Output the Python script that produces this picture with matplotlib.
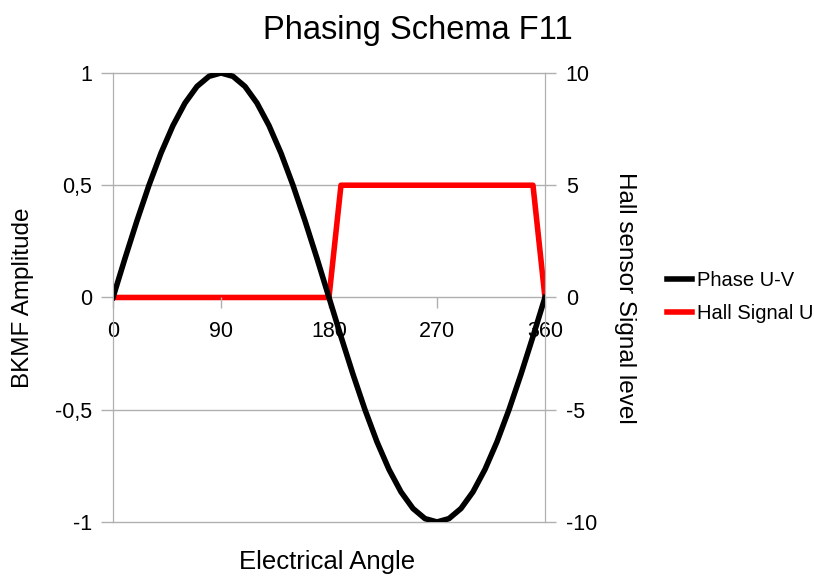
import numpy as np
import matplotlib
matplotlib.use("Agg")
from matplotlib import pyplot as plt

plt.rcParams['font.family'] = ['Liberation Sans', 'DejaVu Sans']
plt.rcParams['axes.unicode_minus'] = False

angle = list(range(0, 361, 10))  # electrical angle, degrees
phase_uv = [0, 0.174, 0.342, 0.5, 0.643, 0.766, 0.866, 0.940, 0.985, 1.0,
            0.985, 0.940, 0.866, 0.766, 0.643, 0.5, 0.342, 0.174, 0,
            -0.174, -0.342, -0.5, -0.643, -0.766, -0.866, -0.940, -0.985, -1.0,
            -0.985, -0.940, -0.866, -0.766, -0.643, -0.5, -0.342, -0.174, 0]
hall_u = [0] * 19 + [5] * 17 + [0]

x_ticks = [0, 90, 180, 270, 360]
left_ticks = [-1, -0.5, 0, 0.5, 1]
left_labels = ['-1', '-0,5', '0', '0,5', '1']
right_ticks = [-10, -5, 0, 5, 10]

fig = plt.figure(figsize=(8.14, 5.76), dpi=100)
ax = fig.add_axes([0.1388, 0.0938, 0.5307, 0.7795])
ax2 = ax.twinx()
ax.set_zorder(ax2.get_zorder() + 1)
ax.patch.set_visible(False)

grey = '#b0b0b0'
l1, = ax.plot(angle, phase_uv, color='black', lw=4, solid_joinstyle='round', label='Phase U-V')
l2, = ax2.plot(angle, hall_u, color='#ff0000', lw=4, solid_joinstyle='round', label='Hall Signal U')

ax.set_xlim(0, 360)
ax.set_ylim(-1, 1)
ax2.set_ylim(-10, 10)
ax.set_xticks(x_ticks)
ax.set_yticks(left_ticks)
ax.set_yticklabels(left_labels)
ax2.set_yticks(right_ticks)
ax2.yaxis.grid(True, color=grey, lw=1, clip_on=False)
ax2.set_axisbelow(True)

for a in (ax, ax2):
    a.spines['top'].set_visible(False)
    a.spines['left'].set_color(grey)
    a.spines['right'].set_color(grey)
# zero line comes from the grid, so the spine only anchors the x ticks
ax.spines['bottom'].set_position(('data', 0))
ax.spines['bottom'].set_color('none')
ax2.spines['bottom'].set_visible(False)

tick_fs = 15.5
ax.tick_params(axis='x', colors=grey, labelcolor='black', labelsize=tick_fs, length=8, width=1, pad=9)
ax.tick_params(axis='y', colors=grey, labelcolor='black', labelsize=tick_fs, length=9, width=1, pad=6)
ax2.tick_params(axis='y', colors=grey, labelcolor='black', labelsize=tick_fs, length=8, width=1, pad=7)

ax.set_ylabel('BKMF Amplitude', fontsize=17.5, va='center')
ax.yaxis.set_label_coords(-0.208, 0.5)
ax2.set_ylabel('Hall sensor Signal level', fontsize=17.5, rotation=-90, va='center')
ax2.yaxis.set_label_coords(1.185, 0.5)
fig.text(0.402, 0.024, 'Electrical Angle', fontsize=18.5, ha='center', va='center')
fig.text(0.513, 0.947, 'Phasing Schema F11', fontsize=23.5, ha='center', va='center')

fig.legend([l1, l2], ['Phase U-V', 'Hall Signal U'], loc='center left',
           bbox_to_anchor=(0.797, 0.484), frameon=False, fontsize=14.5,
           handlelength=1.25, handletextpad=0.25, labelspacing=0.7)

fig.savefig('out.png', dpi=100)
